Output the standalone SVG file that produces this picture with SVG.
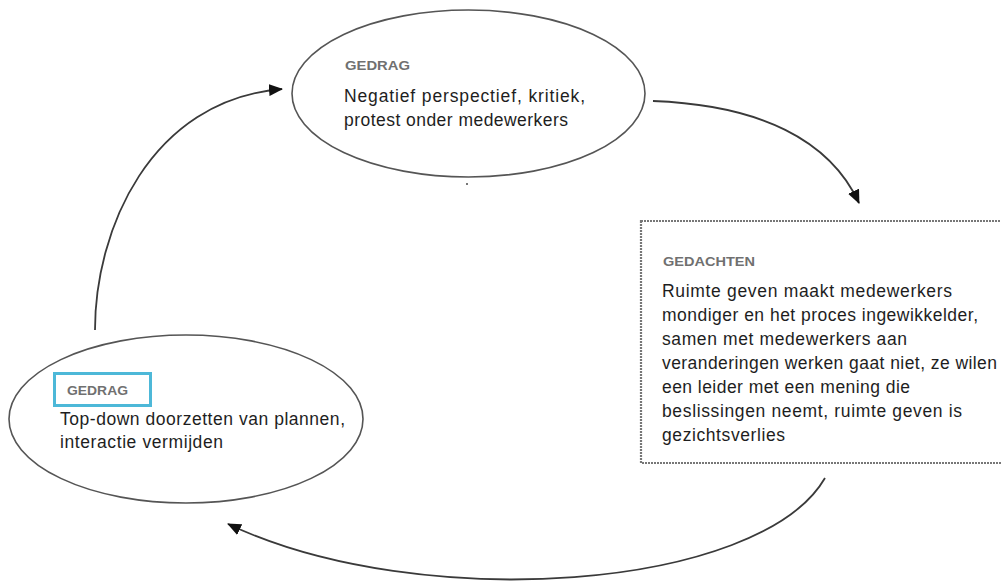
<svg xmlns="http://www.w3.org/2000/svg" width="1001" height="583" viewBox="0 0 1001 583">
<style>
.node{fill:#fff;stroke:#555;stroke-width:1.6}
.box{fill:#fff;stroke:#777;stroke-width:2.2;stroke-dasharray:2 1}
.hdr{font-family:"Liberation Sans",Arial,sans-serif;font-size:12.5px;font-weight:bold;fill:#707070}
.txt{font-family:"Liberation Sans",Arial,sans-serif;font-size:17.5px;fill:#1e1e1e}
.arc{fill:none;stroke:#3a3a3a;stroke-width:1.8}
</style>
<defs>
<marker id="ah" markerUnits="userSpaceOnUse" markerWidth="14" markerHeight="12" refX="13" refY="6" orient="auto">
<path d="M0,0 L14,6 L0,12 Z" fill="#111"/>
</marker>
</defs>
<rect width="1001" height="583" fill="#fff"/>
<g id="connectors">
<path class="arc" d="M95,330 C95,230 150,100 282,89" marker-end="url(#ah)"/>
<path class="arc" d="M653,101 C760,105 830,140 859,203" marker-end="url(#ah)"/>
<path class="arc" d="M825,478 C760,590 420,615 228,524" marker-end="url(#ah)"/>
</g>
<g id="node-gedrag-top">
<ellipse class="node" cx="468.5" cy="93.5" rx="176.5" ry="83.5"/>
<text class="hdr" x="345" y="70" textLength="65" lengthAdjust="spacingAndGlyphs">GEDRAG</text>
<text class="txt" x="344" y="102" textLength="241" lengthAdjust="spacing">Negatief perspectief, kritiek,</text>
<text class="txt" x="344" y="126" textLength="224" lengthAdjust="spacing">protest onder medewerkers</text>
<rect x="466" y="183" width="2" height="2" fill="#777"/>
</g>
<g id="node-gedachten">
<rect class="box" x="641" y="221" width="365" height="242"/>
<text class="hdr" x="663" y="266" textLength="92" lengthAdjust="spacingAndGlyphs">GEDACHTEN</text>
<text class="txt" x="662" y="297" textLength="290" lengthAdjust="spacing">Ruimte geven maakt medewerkers</text>
<text class="txt" x="662" y="321" textLength="316" lengthAdjust="spacing">mondiger en het proces ingewikkelder,</text>
<text class="txt" x="662" y="345" textLength="245" lengthAdjust="spacing">samen met medewerkers aan</text>
<text class="txt" x="662" y="369" textLength="335" lengthAdjust="spacing">veranderingen werken gaat niet, ze wilen</text>
<text class="txt" x="662" y="393" textLength="248" lengthAdjust="spacing">een leider met een mening die</text>
<text class="txt" x="662" y="417" textLength="300" lengthAdjust="spacing">beslissingen neemt, ruimte geven is</text>
<text class="txt" x="662" y="441" textLength="123" lengthAdjust="spacing">gezichtsverlies</text>
</g>
<g id="node-gedrag-bottom">
<ellipse class="node" cx="186" cy="419" rx="177" ry="84"/>
<rect x="54.5" y="373.5" width="96" height="32" fill="none" stroke="#4db8d8" stroke-width="3"/>
<text class="hdr" x="67" y="395" textLength="61" lengthAdjust="spacingAndGlyphs">GEDRAG</text>
<text class="txt" x="60" y="425" textLength="285" lengthAdjust="spacing">Top-down doorzetten van plannen,</text>
<text class="txt" x="60" y="448" textLength="163" lengthAdjust="spacing">interactie vermijden</text>
</g>
</svg>
